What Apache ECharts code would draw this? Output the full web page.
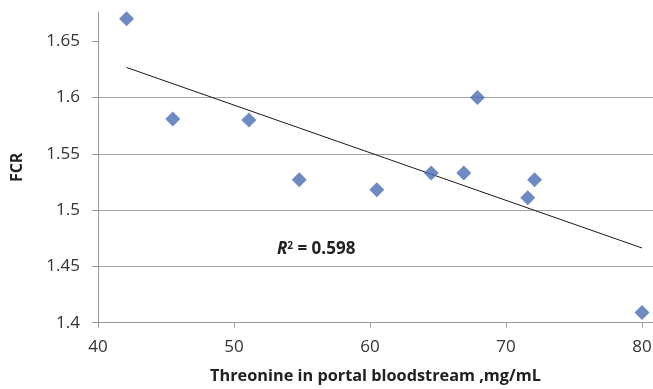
<!DOCTYPE html>
<html>
<head>
<meta charset="utf-8">
<script src="https://cdn.jsdelivr.net/npm/echarts@6/dist/echarts.min.js"></script>
<style>
html,body{margin:0;padding:0;background:#fff;}
#chart{width:653px;height:389px;}
</style>
</head>
<body>
<div id="chart"></div>
<script>
// Threonine in portal bloodstream (mg/mL)
const threonine = [42.1, 45.5, 51.1, 54.8, 60.5, 64.5, 66.9, 67.9, 71.6, 72.1, 80.0];
// Feed conversion ratio
const fcr = [1.670, 1.581, 1.580, 1.527, 1.518, 1.533, 1.533, 1.600, 1.511, 1.527, 1.409];
const xTicks = [40, 50, 60, 70, 80];
const yTicks = [1.4, 1.45, 1.5, 1.55, 1.6, 1.65];
const r2Text = '0.598';

// linear regression for the trend line
const n = threonine.length;
const mx = threonine.reduce((a, b) => a + b, 0) / n;
const my = fcr.reduce((a, b) => a + b, 0) / n;
let sxy = 0, sxx = 0;
for (let i = 0; i < n; i++) { sxy += (threonine[i] - mx) * (fcr[i] - my); sxx += (threonine[i] - mx) ** 2; }
const slope = sxy / sxx, icpt = my - slope * mx;
const xMin = Math.min(...threonine), xMax = Math.max(...threonine);
const trend = [[xMin, icpt + slope * xMin], [xMax, icpt + slope * xMax]];

const font = '"Open Sans", Lato, sans-serif';
const chart = echarts.init(document.getElementById('chart'), null, {renderer: 'canvas'});
chart.setOption({
  animation: false,
  backgroundColor: '#fff',
  grid: {left: 98, right: 0, top: 12, bottom: 66.3, containLabel: false, outerBoundsMode: 'none'},
  xAxis: {
    type: 'value', min: 40, max: 80.81, interval: 10,
    name: 'Threonine in portal bloodstream ,mg/mL',
    nameLocation: 'middle', nameGap: 46,
    nameTextStyle: {fontFamily: font, fontWeight: 'bold', fontSize: 16.3, color: '#222'},
    axisLine: {show: true, lineStyle: {color: '#9a9a9a', width: 1}},
    axisTick: {show: true, customValues: xTicks, length: 5, lineStyle: {color: '#9a9a9a'}},
    axisLabel: {customValues: xTicks, fontFamily: font, fontSize: 17, color: '#333', margin: 16},
    splitLine: {show: false}
  },
  yAxis: {
    type: 'value', min: 1.4, max: 1.676, interval: 0.05,
    name: 'FCR', nameLocation: 'middle', nameGap: 73, nameRotate: 90,
    nameTextStyle: {fontFamily: font, fontWeight: 'bold', fontSize: 16, color: '#222'},
    axisLine: {show: true, lineStyle: {color: '#9a9a9a', width: 1}},
    axisTick: {show: true, customValues: yTicks, length: 6, lineStyle: {color: '#9a9a9a'}},
    axisLabel: {customValues: yTicks, fontFamily: font, fontSize: 17, color: '#333', margin: 18,
      formatter: v => String(+v.toFixed(2))},
    splitLine: {show: true, showMaxLine: false, lineStyle: {color: '#a6a6a6', width: 1.2}}
  },
  series: [
    {
      type: 'scatter', symbol: 'diamond', symbolSize: 15,
      itemStyle: {color: '#4B6DB4'},
      data: threonine.map((x, i) => [x, fcr[i]]), z: 3
    },
    {
      type: 'line', data: trend, symbol: 'none',
      lineStyle: {color: '#1a1a1a', width: 1}, z: 2
    }
  ],
  graphic: [{
    type: 'text', left: 277, top: 241,
    style: {
      rich: {
        r: {fontFamily: font, fontStyle: 'italic', fontWeight: 'bold', fontSize: 17, fill: '#222'},
        s: {fontFamily: font, fontWeight: 'bold', fontSize: 10, fill: '#222', verticalAlign: 'top', padding: [0, 0, 7, 0]},
        t: {fontFamily: font, fontWeight: 'bold', fontSize: 17, fill: '#222'}
      },
      text: '{r|R}{s|2}{t| = ' + r2Text + '}'
    }
  }]
});
</script>
</body>
</html>
